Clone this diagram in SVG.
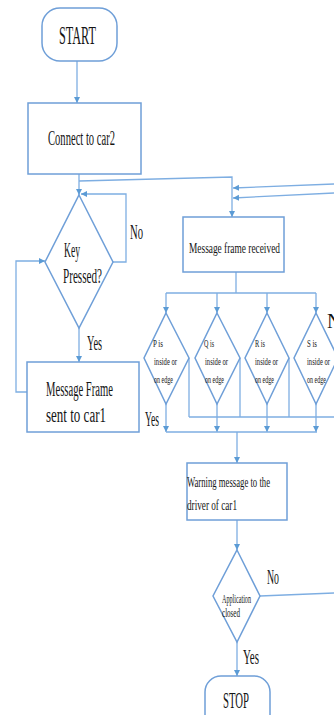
<svg xmlns="http://www.w3.org/2000/svg" width="334" height="715" viewBox="0 0 334 715">
<defs>
<marker id="arr" markerUnits="userSpaceOnUse" markerWidth="7" markerHeight="7" refX="6" refY="3" orient="auto">
<path d="M0,0 L6,3 L0,6 z" fill="#5b9bd5"/>
</marker>
<style>
.sh{fill:#fff;stroke:#6f9fd8;stroke-width:1.5}
.cn{fill:none;stroke:#7eaee2;stroke-width:1.3}
.t{font-family:"Liberation Serif","Times New Roman",serif;fill:#151515}
</style>
</defs>
<rect width="334" height="715" fill="#fff"/>
<g id="connectors">
<line class="cn" x1="77" y1="61" x2="77" y2="103" marker-end="url(#arr)"/>
<line class="cn" x1="79" y1="174" x2="79" y2="195" marker-end="url(#arr)"/>
<polyline class="cn" points="79,181 232,177 232,217" marker-end="url(#arr)"/>
<line class="cn" x1="334" y1="184" x2="233" y2="188" marker-end="url(#arr)"/>
<line class="cn" x1="334" y1="193" x2="233" y2="198" marker-end="url(#arr)"/>
<polyline class="cn" points="113,262 126,262 126,194 81,194" marker-end="url(#arr)"/>
<line class="cn" x1="79" y1="328" x2="79" y2="362" marker-end="url(#arr)"/>
<polyline class="cn" points="27,392 16,392 16,261 45,261" marker-end="url(#arr)"/>
<line class="cn" x1="236" y1="272" x2="236" y2="293"/>
<line class="cn" x1="166" y1="293" x2="316" y2="293"/>
<line class="cn" x1="166" y1="293" x2="166" y2="313" marker-end="url(#arr)"/>
<line class="cn" x1="217" y1="293" x2="217" y2="313" marker-end="url(#arr)"/>
<line class="cn" x1="267" y1="293" x2="267" y2="313" marker-end="url(#arr)"/>
<line class="cn" x1="316" y1="293" x2="316" y2="313" marker-end="url(#arr)"/>
<line class="cn" x1="189" y1="358" x2="189" y2="417"/>
<line class="cn" x1="240" y1="358" x2="240" y2="417"/>
<line class="cn" x1="289" y1="358" x2="289" y2="417"/>
<line class="cn" x1="189" y1="417" x2="334" y2="417"/>
<line class="cn" x1="166" y1="404" x2="166" y2="432" marker-end="url(#arr)"/>
<line class="cn" x1="217" y1="404" x2="217" y2="432" marker-end="url(#arr)"/>
<line class="cn" x1="267" y1="404" x2="267" y2="432" marker-end="url(#arr)"/>
<line class="cn" x1="316" y1="404" x2="316" y2="432" marker-end="url(#arr)"/>
<line class="cn" x1="166" y1="432" x2="317" y2="432"/>
<line class="cn" x1="237" y1="432" x2="237" y2="463" marker-end="url(#arr)"/>
<line class="cn" x1="237" y1="520" x2="237" y2="550" marker-end="url(#arr)"/>
<line class="cn" x1="260" y1="596" x2="334" y2="593"/>
<line class="cn" x1="237" y1="642" x2="237" y2="676" marker-end="url(#arr)"/>
</g>
<g id="start">
<rect class="sh" x="42" y="8" width="75" height="53" rx="18"/>
<text class="t" x="59" y="44" font-size="25" textLength="37" lengthAdjust="spacingAndGlyphs">START</text>
</g>
<g id="connect">
<rect class="sh" x="28" y="103" width="113" height="71"/>
<text class="t" x="48" y="145" font-size="20" textLength="67" lengthAdjust="spacingAndGlyphs">Connect to car2</text>
</g>
<g id="keypressed">
<polygon class="sh" points="79,195 113,262 79,328 45,262"/>
<text class="t" x="64" y="257" font-size="20" textLength="16" lengthAdjust="spacingAndGlyphs">Key</text>
<text class="t" x="63" y="283" font-size="20" textLength="39" lengthAdjust="spacingAndGlyphs">Pressed?</text>
</g>
<g id="msgsent">
<rect class="sh" x="27" y="362" width="112" height="70"/>
<text class="t" x="46" y="396" font-size="20" textLength="67" lengthAdjust="spacingAndGlyphs">Message Frame</text>
<text class="t" x="46" y="422" font-size="20" textLength="60" lengthAdjust="spacingAndGlyphs">sent to car1</text>
</g>
<g id="received">
<rect class="sh" x="183" y="217" width="101" height="55"/>
<text class="t" x="189" y="253" font-size="15" textLength="91" lengthAdjust="spacingAndGlyphs">Message frame received</text>
</g>
<g id="p">
<polygon class="sh" points="166,313 189,358 166,404 144,358"/>
<text class="t" x="153" y="347" font-size="11" textLength="10" lengthAdjust="spacingAndGlyphs">P is</text>
<text class="t" x="154" y="365" font-size="11" textLength="23" lengthAdjust="spacingAndGlyphs">inside or</text>
<text class="t" x="154" y="383" font-size="11" textLength="19" lengthAdjust="spacingAndGlyphs">on edge</text>
</g>
<g id="q">
<polygon class="sh" points="217,313 240,358 217,404 195,358"/>
<text class="t" x="204" y="347" font-size="11" textLength="10" lengthAdjust="spacingAndGlyphs">Q is</text>
<text class="t" x="205" y="365" font-size="11" textLength="23" lengthAdjust="spacingAndGlyphs">inside or</text>
<text class="t" x="205" y="383" font-size="11" textLength="19" lengthAdjust="spacingAndGlyphs">on edge</text>
</g>
<g id="r">
<polygon class="sh" points="267,313 289,358 267,404 245,358"/>
<text class="t" x="255" y="347" font-size="11" textLength="10" lengthAdjust="spacingAndGlyphs">R is</text>
<text class="t" x="255" y="365" font-size="11" textLength="23" lengthAdjust="spacingAndGlyphs">inside or</text>
<text class="t" x="255" y="383" font-size="11" textLength="19" lengthAdjust="spacingAndGlyphs">on edge</text>
</g>
<g id="s">
<polygon class="sh" points="316,313 338,358 316,404 294,358"/>
<text class="t" x="307" y="347" font-size="11" textLength="10" lengthAdjust="spacingAndGlyphs">S is</text>
<text class="t" x="307" y="365" font-size="11" textLength="23" lengthAdjust="spacingAndGlyphs">inside or</text>
<text class="t" x="307" y="383" font-size="11" textLength="19" lengthAdjust="spacingAndGlyphs">on edge</text>
</g>
<g id="warning">
<rect class="sh" x="187" y="463" width="100" height="57"/>
<text class="t" x="187" y="487" font-size="15" textLength="83" lengthAdjust="spacingAndGlyphs">Warning message to the</text>
<text class="t" x="187" y="510" font-size="15" textLength="50" lengthAdjust="spacingAndGlyphs">driver of car1</text>
</g>
<g id="appclosed">
<polygon class="sh" points="237,550 260,596 237,642 213,596"/>
<text class="t" x="222" y="603" font-size="12" textLength="29" lengthAdjust="spacingAndGlyphs">Application</text>
<text class="t" x="222" y="617" font-size="12" textLength="18" lengthAdjust="spacingAndGlyphs">closed</text>
</g>
<g id="stop">
<rect class="sh" x="205" y="676" width="65" height="60" rx="16"/>
<text class="t" x="223" y="708" font-size="24" textLength="26" lengthAdjust="spacingAndGlyphs">STOP</text>
</g>
<g id="labels">
<text class="t" x="130" y="239" font-size="20" textLength="13" lengthAdjust="spacingAndGlyphs">No</text>
<text class="t" x="87" y="350" font-size="20" textLength="15" lengthAdjust="spacingAndGlyphs">Yes</text>
<text class="t" x="145" y="426" font-size="20" textLength="14" lengthAdjust="spacingAndGlyphs">Yes</text>
<text class="t" x="327" y="328" font-size="20">No</text>
<text class="t" x="267" y="584" font-size="20" textLength="12" lengthAdjust="spacingAndGlyphs">No</text>
<text class="t" x="243" y="664" font-size="20" textLength="16" lengthAdjust="spacingAndGlyphs">Yes</text>
</g>
</svg>
